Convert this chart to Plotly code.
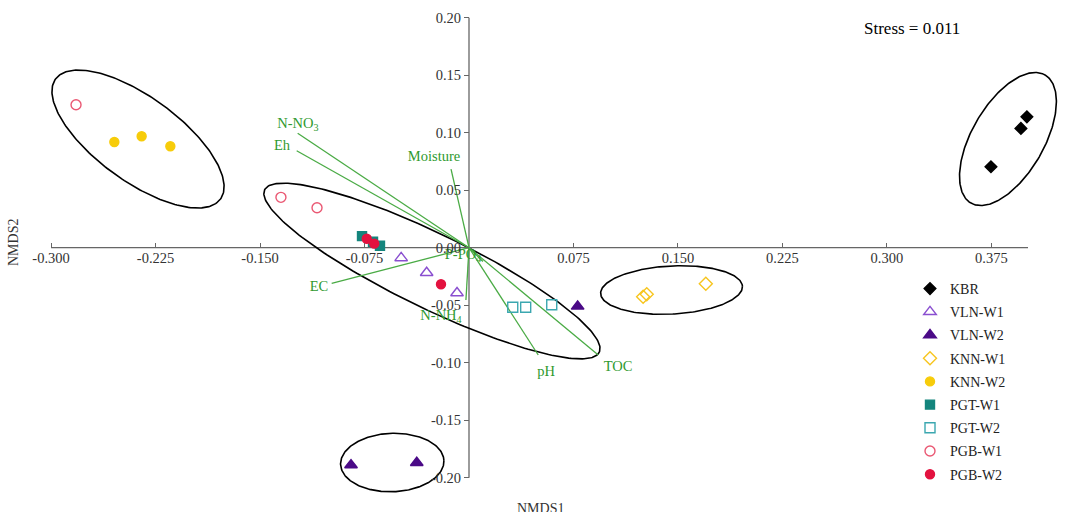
import numpy as np
import plotly.graph_objects as go

# ---------------- data ----------------
kbr_x = [0.4005, 0.3962, 0.3747]
kbr_y = [0.1138, 0.1037, 0.0704]
vln_w1_x = [-0.0487, -0.0304, -0.0086]
vln_w1_y = [-0.0089, -0.0218, -0.0394]
vln_w2_x = [0.0780, -0.0847, -0.0375]
vln_w2_y = [-0.0510, -0.1890, -0.1870]
knn_w1_x = [0.1250, 0.1276, 0.1700]
knn_w1_y = [-0.0426, -0.0405, -0.0313]
knn_w2_x = [-0.2546, -0.2350, -0.2144]
knn_w2_y = [0.0919, 0.0969, 0.0882]
pgt_w1_x = [-0.0768, -0.0689, -0.0639]
pgt_w1_y = [0.0101, 0.0052, 0.0017]
pgt_w2_x = [0.0314, 0.0407, 0.0594]
pgt_w2_y = [-0.0518, -0.0518, -0.0496]
pgb_w1_x = [-0.2821, -0.1350, -0.1091]
pgb_w1_y = [0.1243, 0.0438, 0.0348]
pgb_w2_x = [-0.0734, -0.0680, -0.0201]
pgb_w2_y = [0.0078, 0.0035, -0.0318]

# environmental vectors (arrow tips) and their label anchors
env_names = ["N-NO<sub>3</sub>", "Eh", "Moisture", "EC", "P-PO<sub>4</sub>",
             "N-NH<sub>4</sub>", "pH", "TOC"]
env_x = [-0.1230, -0.1237, -0.0129, -0.0986, 0.0100, -0.0022, 0.0497, 0.0928]
env_y = [0.0995, 0.0843, 0.0684, -0.0310, -0.0120, -0.0455, -0.0933, -0.0933]
env_lab_x = [-0.1228, -0.1342, -0.0251, -0.1077, -0.0043, -0.0201, 0.0553, 0.1070]
env_lab_y = [0.1075, 0.0884, 0.0789, -0.0342, -0.0063, -0.0594, -0.1081, -0.1037]

# group ellipses: centre + two conjugate semi-diameters (data units)
ell_cx = [-0.2376, -0.0266, 0.1454, 0.3869, -0.0551]
ell_cy = [0.0945, -0.0203, -0.0368, 0.0945, -0.1868]
ell_ax = [0.0592, 0.1201, 0.0509, 0.0266, 0.0371]
ell_ay = [-0.0522, -0.0706, 0.0032, 0.0557, 0.0016]
ell_bx = [-0.0177, -0.0117, 0.0009, 0.0224, 0.0007]
ell_by = [-0.0296, -0.0292, -0.0209, -0.0157, -0.0254]

x_tickvals = [-0.300, -0.225, -0.150, -0.075, 0.075, 0.150, 0.225, 0.300, 0.375]
x_ticktext = ["-0.300", "-0.225", "-0.150", "-0.075", "0.075", "0.150", "0.225", "0.300", "0.375"]
y_tickvals = [-0.20, -0.15, -0.10, -0.05, 0.00, 0.05, 0.10, 0.15, 0.20]
y_ticktext = ["-0.20", "-0.15", "-0.10", "-0.05", "0.00", "0.05", "0.10", "0.15", "0.20"]

stress_text = "Stress = 0.011"

# ---------------- figure ----------------
SERIF = "Liberation Serif, Times New Roman, serif"
GREEN_LINE = "#4aab45"
GREEN_TEXT = "#2f9a2f"

X_RANGE = [-0.33668, 0.42857]
Y_RANGE = [-0.22983, 0.21539]

fig = go.Figure()

# ellipses
t = np.linspace(0, 2 * np.pi, 241)
for cx, cy, ax_, ay_, bx_, by_ in zip(ell_cx, ell_cy, ell_ax, ell_ay, ell_bx, ell_by):
    ex = cx + ax_ * np.cos(t) + bx_ * np.sin(t)
    ey = cy + ay_ * np.cos(t) + by_ * np.sin(t)
    fig.add_trace(go.Scatter(x=ex, y=ey, mode="lines",
                             line=dict(color="black", width=1.6),
                             showlegend=False, hoverinfo="skip"))

# environmental vectors
for ex_, ey_ in zip(env_x, env_y):
    fig.add_trace(go.Scatter(x=[0, ex_], y=[0, ey_], mode="lines",
                             line=dict(color=GREEN_LINE, width=1.3),
                             showlegend=False, hoverinfo="skip"))
fig.add_trace(go.Scatter(x=env_lab_x, y=env_lab_y, mode="text", text=env_names,
                         textfont=dict(family=SERIF, size=14.5, color=GREEN_TEXT),
                         showlegend=False, hoverinfo="skip"))

series = [
    ("KBR", kbr_x, kbr_y, "diamond", "black", 9),
    ("VLN-W1", vln_w1_x, vln_w1_y, "triangle-up-open", "#8a4fd0", 11),
    ("VLN-W2", vln_w2_x, vln_w2_y, "triangle-up", "#4b0a87", 11),
    ("KNN-W1", knn_w1_x, knn_w1_y, "diamond-open", "#f7c51e", 10),
    ("KNN-W2", knn_w2_x, knn_w2_y, "circle", "#f7cc0a", 9),
    ("PGT-W1", pgt_w1_x, pgt_w1_y, "square", "#14857d", 9),
    ("PGT-W2", pgt_w2_x, pgt_w2_y, "square-open", "#3ba7b0", 10),
    ("PGB-W1", pgb_w1_x, pgb_w1_y, "circle-open", "#ea5873", 10),
    ("PGB-W2", pgb_w2_x, pgb_w2_y, "circle", "#e3123f", 9),
]
for i, (name, xs, ys, sym, col, sz) in enumerate(series):
    fig.add_trace(go.Scatter(
        x=xs, y=ys, mode="markers", name=name, legendgroup=name,
        marker=dict(symbol=sym, color=col, size=sz,
                    line=dict(color=col, width=1.4)),
        cliponaxis=False))

# axis lines crossing at the origin
fig.add_shape(type="line", xref="x", yref="y", x0=-0.300, x1=0.4013, y0=0, y1=0,
              line=dict(color="#666666", width=1.3), layer="below")
fig.add_shape(type="line", xref="x", yref="y", x0=0, x1=0, y0=-0.20, y1=0.20,
              line=dict(color="#666666", width=1.3), layer="below")

x_pos = (0 - Y_RANGE[0]) / (Y_RANGE[1] - Y_RANGE[0])
y_pos = (0 - X_RANGE[0]) / (X_RANGE[1] - X_RANGE[0])

tickfont = dict(family=SERIF, size=14.5, color="#333333")
fig.update_layout(
    width=1066, height=512,
    margin=dict(l=0, r=0, t=0, b=0),
    paper_bgcolor="white", plot_bgcolor="white",
    xaxis=dict(range=X_RANGE, showgrid=False, zeroline=False, showline=False,
               tickmode="array", tickvals=x_tickvals, ticktext=x_ticktext,
               ticks="inside", ticklen=5, tickwidth=1.2, tickcolor="#666666",
               tickfont=tickfont, anchor="free", position=x_pos,
               automargin=False, fixedrange=True),
    yaxis=dict(range=Y_RANGE, showgrid=False, zeroline=False, showline=False,
               tickmode="array", tickvals=y_tickvals, ticktext=y_ticktext,
               ticks="outside", ticklen=5, tickwidth=1.2, tickcolor="#666666",
               tickfont=tickfont, anchor="free", position=y_pos,
               automargin=False, fixedrange=True),
    legend=dict(x=910 / 1066, y=1 - 273 / 512, xanchor="left", yanchor="top",
                font=dict(family=SERIF, size=14, color="#222222"),
                bgcolor="rgba(0,0,0,0)", traceorder="grouped", tracegroupgap=2),
    annotations=[
        dict(text=stress_text, x=912 / 1066, y=1 - 28 / 512, xref="paper", yref="paper",
             showarrow=False, xanchor="center", yanchor="middle",
             font=dict(family=SERIF, size=17, color="black")),
        dict(text="NMDS1", x=540 / 1066, y=1 - 508 / 512, xref="paper", yref="paper",
             showarrow=False, xanchor="center", yanchor="middle",
             font=dict(family=SERIF, size=14, color="#333333")),
        dict(text="NMDS2", x=13 / 1066, y=1 - 243 / 512, xref="paper", yref="paper",
             showarrow=False, xanchor="center", yanchor="middle", textangle=-90,
             font=dict(family=SERIF, size=14, color="#333333")),
    ],
)

fig.write_html("out.html")
